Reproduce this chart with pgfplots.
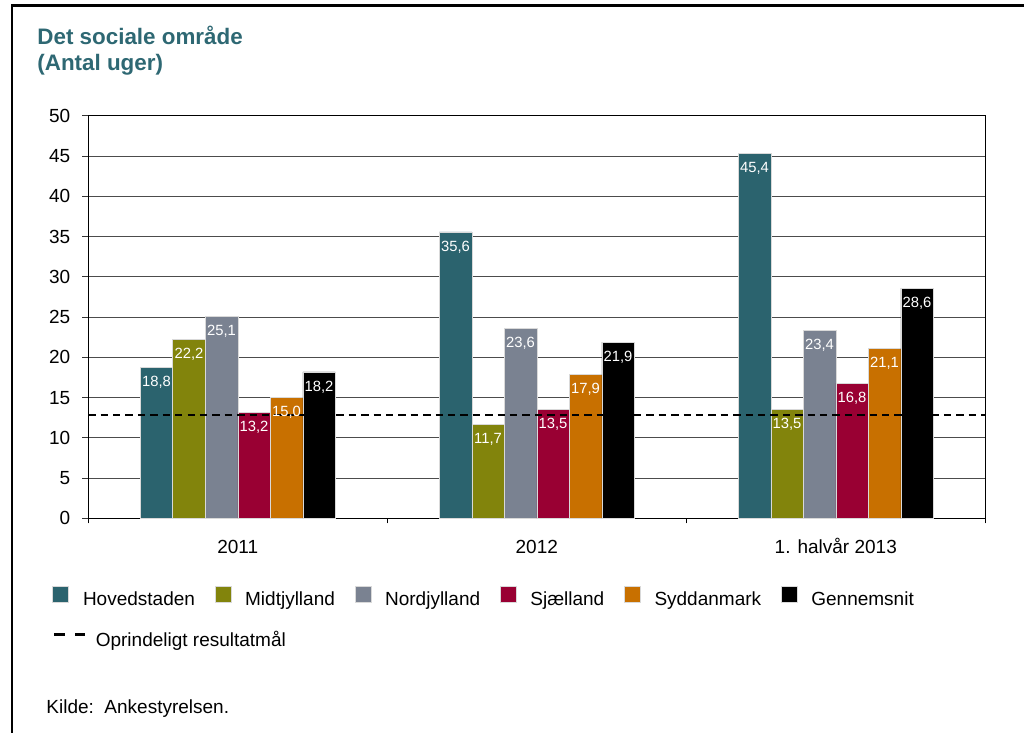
\documentclass[border=0pt]{standalone}
\usepackage{fontspec}
\setmainfont{Liberation Sans}
\usepackage{pgfplots}
\pgfplotsset{compat=1.18}
\definecolor{hoved}{RGB}{43,99,110}
\definecolor{midt}{RGB}{130,132,12}
\definecolor{nord}{RGB}{122,130,145}
\definecolor{sjael}{RGB}{153,0,51}
\definecolor{sydd}{RGB}{200,112,0}
\definecolor{titlecol}{RGB}{46,104,115}
\pgfplotsset{
  sqlegend/.style={legend image code/.code={\fill[##1] (0pt,-1pt) rectangle (8pt,7pt);}},
  /pgf/number format/assume math mode=true,
}
\begin{document}
\begin{tikzpicture}
\begin{scope}[x=0.5pt,y=0.5pt]
\useasboundingbox (0,0) rectangle (1024,733);
\draw[line width=1.1pt, black] (12,0) -- (12,727.5) -- (1024,727.5);
\node[anchor=base west, inner sep=0pt, text=titlecol, font=\bfseries\fontsize{11.2}{13}\selectfont] at (37,688.7) {Det sociale område};
\node[anchor=base west, inner sep=0pt, text=titlecol, font=\bfseries\fontsize{11.2}{13}\selectfont] at (37,662) {(Antal uger)};
\node[anchor=base west, inner sep=0pt, font=\fontsize{9.5}{11}\selectfont] at (46,19) {Kilde:\ \ Ankestyrelsen.};
\end{scope}
\begin{axis}[
  at={(44.15pt,107.35pt)}, anchor=south west,
  scale only axis, width=448.5pt, height=201.15pt,
  ybar=0pt, bar width=16.25pt,
  every axis plot post/.append style={sqlegend},
  xmin=-0.5, xmax=2.5, ymin=0, ymax=50,
  ytick={0,5,...,50},
  xtick={0,1,2}, xticklabels={2011,2012,1. halvår 2013},
  minor xtick={-0.5,0.5,1.5,2.5},
  tick align=outside, tick pos=left,
  major tick length=3pt, minor tick length=2.5pt,
  major x tick style={draw=none},
  minor x tick style={black, line width=0.5pt},
  ytick style={black!80, line width=0.5pt},
  ymajorgrids, grid style={black!70, line width=0.5pt},
  axis line style={black, line width=0.5pt},
  ticklabel style={font=\fontsize{9.5}{11}\selectfont},
  yticklabel style={xshift=-2.5pt},
  xticklabel style={anchor=base, yshift=-14.85pt},
  /pgf/number format/.cd, fixed, fixed zerofill, precision=1, use comma, /pgfplots/.cd,
  yticklabel={\pgfmathprintnumber[fixed, precision=0]{\tick}},
  nodes near coords,
  every node near coord/.append style={font=\fontsize{7.4}{8.5}\selectfont, text=white, anchor=center, yshift=-7.5pt},
  legend columns=6,
  legend style={at={(-0.04047,-0.1969)}, anchor=west, draw=none, fill=none, inner sep=0pt,
    font=\fontsize{9.5}{11}\selectfont, nodes={inner sep=0pt},
    /tikz/every odd column/.append style={column sep=7pt},
    /tikz/every even column/.append style={column sep=9.8pt}},
]
\addplot[fill=hoved, draw=black!15, line width=0.3pt] coordinates {(0,18.8) (1,35.6) (2,45.4)};
\addplot[fill=midt, draw=black!15, line width=0.3pt] coordinates {(0,22.2) (1,11.7) (2,13.5)};
\addplot[fill=nord, draw=black!15, line width=0.3pt] coordinates {(0,25.1) (1,23.6) (2,23.4)};
\addplot[fill=sjael, draw=black!15, line width=0.3pt] coordinates {(0,13.2) (1,13.5) (2,16.8)};
\addplot[fill=sydd, draw=black!15, line width=0.3pt] coordinates {(0,15.0) (1,17.9) (2,21.1)};
\addplot[fill=black, draw=black!15, line width=0.3pt] coordinates {(0,18.2) (1,21.9) (2,28.6)};
\legend{Hovedstaden, Midtjylland, Nordjylland, Sjælland, Syddanmark, Gennemsnit}
\addplot[sharp plot, black, line width=1.15pt, dash pattern=on 3.7pt off 2.5pt, nodes near coords=, bar shift=0pt, forget plot] coordinates {(-0.5,12.8) (2.5,12.8)};
\end{axis}
\begin{axis}[
  at={(44.15pt,107.35pt)}, anchor=south west,
  scale only axis, width=448.5pt, height=201.15pt,
  hide axis, xmin=0, xmax=1, ymin=0, ymax=1,
  legend style={at={(-0.04047,-0.2975)}, anchor=west, draw=none, fill=none, inner sep=0pt,
    font=\fontsize{9.5}{11}\selectfont, nodes={inner sep=0pt},
    /tikz/every odd column/.append style={column sep=4.5pt}},
  legend image code/.code={\path[draw=none,fill=none] (0pt,-1pt) rectangle (15.5pt,7pt); \draw[#1] (0pt,3pt) -- (15.5pt,3pt);},
]
\addlegendimage{black, line width=1.7pt, dash pattern=on 5.5pt off 5pt}
\addlegendentry{Oprindeligt resultatmål}
\end{axis}
\end{tikzpicture}
\end{document}
